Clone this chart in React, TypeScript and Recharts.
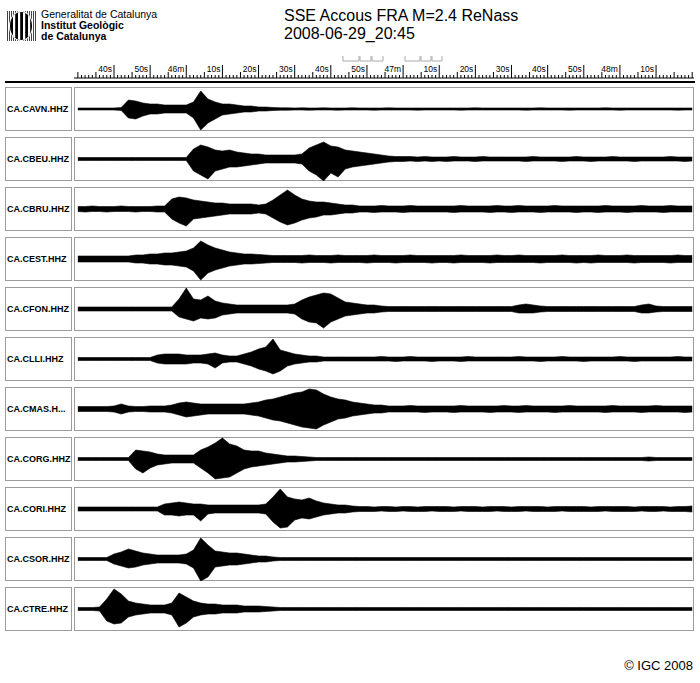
import React from 'react';
import { AreaChart, Area, ComposedChart, Line, XAxis, YAxis } from 'recharts';

// time bins, seconds after 20:45:00
const binTimes = [
  30, 32, 34, 36, 38, 40, 42, 44, 46, 48,
  50, 52, 54, 56, 58, 60, 62, 64, 66, 68,
  70, 72, 74, 76, 78, 80, 82, 84, 86, 88,
  90, 92, 94, 96, 98, 100, 102, 104, 106, 108,
  110, 112, 114, 116, 118, 120, 122, 124, 126, 128,
  130, 132, 134, 136, 138, 140, 142, 144, 146, 148,
  150, 152, 154, 156, 158, 160, 162, 164, 166, 168,
  170, 172, 174, 176, 178, 180, 182, 184, 186, 188,
  190, 192, 194, 196, 198, 200,
];

const majorTicks = [40, 50, 60, 70, 80, 90, 100, 110, 120, 130, 140, 150, 160, 170, 180, 190];
const majorLabels = ['40s', '50s', '46m', '10s', '20s', '30s', '40s', '50s', '47m', '10s', '20s', '30s', '40s', '50s', '48m', '10s'];

const stationNames = [
  'CA.CAVN.HHZ', 'CA.CBEU.HHZ', 'CA.CBRU.HHZ', 'CA.CEST.HHZ', 'CA.CFON.HHZ', 'CA.CLLI.HHZ',
  'CA.CMAS.H...', 'CA.CORG.HHZ', 'CA.CORI.HHZ', 'CA.CSOR.HHZ', 'CA.CTRE.HHZ',
];

// upper / lower envelope of each trace per bin
const cavnUp = [
  1, 1, 1, 1, 1, 1, 1.5, 9, 8, 6,
  5, 5, 4, 4, 4, 4, 7, 18, 10, 7,
  5, 5, 4, 3, 3, 2, 2, 1.5, 1.2, 1.2,
  1, 1.2, 1, 1, 1.2, 1, 1, 1, 1.2, 1,
  1, 1, 1, 1.2, 1, 1, 1, 1, 1, 1,
  1, 1, 1, 1, 1, 1.2, 1, 1, 1, 1,
  1, 1, 1, 1, 1.2, 1, 1, 1, 1, 1,
  1, 1, 1, 1.2, 1, 1, 1, 1, 1, 1,
  1, 1, 1, 1, 1, 1,
];
const cavnDown = [
  1, 1, 1, 1, 1, 1, 1.5, 9, 10, 7,
  5, 5, 4, 4, 4, 4, 9, 21, 14, 10,
  6, 5, 4, 3, 3, 2, 2, 1.5, 1.2, 1.2,
  1, 1, 1.2, 1, 1, 1, 1.2, 1, 1, 1,
  1, 1.2, 1, 1, 1, 1, 1, 1.2, 1, 1,
  1, 1, 1, 1.2, 1, 1, 1, 1, 1, 1,
  1, 1, 1.2, 1, 1, 1, 1, 1, 1.2, 1,
  1, 1, 1, 1, 1, 1.2, 1, 1, 1, 1,
  1, 1, 1, 1.2, 1, 1,
];

const cbeuUp = [
  1.5, 1.5, 1.5, 1.5, 1.5, 1.5, 1.5, 1.5, 1.5, 1.5,
  1.5, 1.5, 1.5, 1.5, 1.5, 1.5, 10, 14, 12, 9,
  8, 9, 7, 6, 5, 5, 4, 4, 4, 4,
  4, 5, 11, 14, 17, 13, 12, 9, 8, 7,
  6, 5, 4, 3, 2.5, 2.5, 2.5, 2, 2.5, 2,
  2, 2, 2.5, 2, 2, 2, 2.5, 2, 2, 2,
  2, 2, 2, 2.5, 2, 2, 2, 2, 2, 2.5,
  2, 2, 2, 2, 2.5, 2, 2, 2, 2, 2,
  2, 2, 2.5, 2, 2, 2,
];
const cbeuDown = [
  1.5, 1.5, 1.5, 1.5, 1.5, 1.5, 1.5, 1.5, 1.5, 1.5,
  1.5, 1.5, 1.5, 1.5, 1.5, 1.5, 12, 16, 20, 12,
  10, 8, 8, 7, 6, 5, 4, 4, 4, 4,
  4, 5, 12, 16, 22, 14, 18, 10, 8, 7,
  6, 5, 4, 3, 2.5, 2.5, 2, 2.5, 2, 2.5,
  2, 2.5, 2, 2, 2, 2.5, 2, 2, 2, 2,
  2, 2, 2.5, 2, 2, 2, 2, 2.5, 2, 2,
  2, 2.5, 2, 2, 2, 2, 2, 2.5, 2, 2,
  2, 2, 2, 2, 2.5, 2,
];

const cbruUp = [
  2.5, 2.5, 3, 2.5, 2.5, 2.5, 3, 2.5, 2.5, 2.5,
  2.5, 3, 3, 10, 12, 11, 9, 8, 7, 6,
  6, 5, 5, 5, 5, 4, 5, 9, 14, 19,
  14, 10, 8, 7, 7, 6, 5, 4, 4, 3,
  3, 3, 3.5, 3, 3, 3, 3.5, 3, 3, 3,
  3, 3, 3, 3.5, 3, 3, 3, 3, 3.5, 3,
  3, 3.5, 3, 3, 3, 3, 3.5, 3, 3, 3,
  3, 3, 3, 3.5, 3, 3, 3, 3, 3.5, 3,
  3, 3, 3.5, 3, 3, 3,
];
const cbruDown = [
  2.5, 3, 2.5, 2.5, 3, 2.5, 2.5, 2.5, 3, 2.5,
  2.5, 3, 3, 10, 14, 17, 10, 9, 8, 7,
  6, 5, 5, 5, 5, 4, 5, 9, 13, 16,
  14, 11, 9, 8, 6, 6, 5, 4, 4, 3,
  3, 3.5, 3, 3, 3, 3.5, 3, 3, 3, 3,
  3, 3, 3.5, 3, 3, 3, 3, 3.5, 3, 3,
  3.5, 3, 3, 3, 3.5, 3, 3, 3, 3, 3.5,
  3, 3, 3.5, 3, 3, 3, 3.5, 3, 3, 3,
  3, 3.5, 3, 3, 3, 3,
];

const cestUp = [
  3, 3, 3, 3, 3, 3, 3, 3, 4, 4,
  5, 5, 6, 6, 7, 8, 11, 18, 14, 11,
  9, 7, 6, 5, 5, 4.5, 4, 3.5, 3.5, 3.5,
  3.5, 3.5, 4, 3.5, 3.5, 3.5, 4, 3.5, 3.5, 3.5,
  3.5, 4, 3.5, 3.5, 3.5, 3.5, 4, 3.5, 3.5, 3.5,
  3.5, 3.5, 3.5, 4, 3.5, 3.5, 3.5, 3.5, 4, 3.5,
  3.5, 4, 3.5, 3.5, 3.5, 3.5, 3.5, 4, 3.5, 3.5,
  3.5, 3.5, 4, 3.5, 3.5, 3.5, 4, 3.5, 3.5, 3.5,
  3.5, 3.5, 3.5, 4, 3.5, 3.5,
];
const cestDown = [
  3, 3, 3, 3, 3, 3, 3, 3, 4, 4,
  5, 5, 6, 6, 7, 8, 12, 21, 14, 11,
  9, 7, 6, 5, 5, 4.5, 4, 3.5, 3.5, 3.5,
  3.5, 4, 3.5, 3.5, 3.5, 4, 3.5, 3.5, 3.5, 3.5,
  4, 3.5, 3.5, 3.5, 4, 3.5, 3.5, 3.5, 3.5, 4,
  3.5, 3.5, 4, 3.5, 3.5, 3.5, 3.5, 4, 3.5, 3.5,
  3.5, 3.5, 3.5, 3.5, 4, 3.5, 3.5, 3.5, 3.5, 4,
  3.5, 4, 3.5, 3.5, 3.5, 3.5, 3.5, 4, 3.5, 3.5,
  3.5, 3.5, 4, 3.5, 3.5, 3.5,
];

const cfonUp = [
  2, 2, 2, 2, 2, 2, 2, 2, 2, 2,
  2, 2, 2, 2, 10, 21, 10, 9, 13, 8,
  6, 5, 4, 4, 4, 4, 4, 4, 4, 4,
  5, 9, 12, 14, 16, 15, 11, 7, 6, 5,
  4, 4, 3, 2.5, 2.5, 2.5, 2.5, 2.5, 2.5, 2.5,
  2.5, 2.5, 2.5, 2.5, 2.5, 2.5, 2.5, 2.5, 2.5, 2.5,
  2.5, 4, 5, 4, 3, 2.5, 2.5, 2.5, 2.5, 2.5,
  2.5, 2.5, 2.5, 2.5, 2.5, 2.5, 2.5, 2.5, 4, 5,
  3, 2.5, 2.5, 2.5, 2.5, 2.5,
];
const cfonDown = [
  2, 2, 2, 2, 2, 2, 2, 2, 2, 2,
  2, 2, 2, 2, 8, 10, 12, 9, 10, 9,
  6, 5, 4, 4, 4, 4, 4, 4, 4, 4,
  5, 10, 13, 14, 19, 13, 10, 7, 6, 5,
  4, 4, 3, 2.5, 2.5, 2.5, 2.5, 2.5, 2.5, 2.5,
  2.5, 2.5, 2.5, 2.5, 2.5, 2.5, 2.5, 2.5, 2.5, 2.5,
  2.5, 4, 4, 4, 3, 2.5, 2.5, 2.5, 2.5, 2.5,
  2.5, 2.5, 2.5, 2.5, 2.5, 2.5, 2.5, 2.5, 4, 4,
  3, 2.5, 2.5, 2.5, 2.5, 2.5,
];

const clliUp = [
  1.5, 1.5, 1.5, 1.5, 1.5, 1.5, 1.5, 1.5, 1.5, 1.5,
  1.5, 4, 5, 5, 5, 4, 4, 4, 5, 6,
  4, 3, 3, 5, 7, 10, 12, 20, 9, 7,
  5, 4, 3, 3, 2, 2, 2, 2, 2, 2,
  2, 2, 2.5, 2, 2, 2, 2.5, 2, 2, 2,
  2, 2, 2, 2, 2.5, 2, 2, 2, 2, 2,
  2, 2.5, 2, 2, 2, 2, 2, 2.5, 2, 2,
  2, 2, 2, 2, 2, 2.5, 2, 2, 2, 2,
  2, 2, 2, 2.5, 2, 2,
];
const clliDown = [
  1.5, 1.5, 1.5, 1.5, 1.5, 1.5, 1.5, 1.5, 1.5, 1.5,
  1.5, 4, 5, 5, 5, 5, 4, 4, 5, 9,
  4, 3, 3, 5, 7, 10, 12, 15, 12, 7,
  5, 4, 3, 3, 2, 2, 2, 2, 2, 2,
  2, 2, 2, 2, 2.5, 2, 2, 2, 2, 2.5,
  2, 2, 2, 2.5, 2, 2, 2, 2, 2, 2,
  2, 2, 2, 2, 2.5, 2, 2, 2, 2, 2,
  2.5, 2, 2, 2, 2, 2, 2, 2.5, 2, 2,
  2, 2, 2, 2, 2, 2,
];

const cmasUp = [
  2.5, 2.5, 2.5, 2.5, 2.5, 3, 5, 3, 2.5, 2.5,
  3, 3, 3, 4, 6, 7, 6, 5, 5, 5,
  5, 5, 5, 5, 6, 7, 9, 10, 12, 14,
  16, 17, 20, 19, 15, 12, 10, 9, 7, 6,
  5, 4, 4, 3, 3, 3, 3.5, 3, 3, 3,
  3, 3, 3, 3.5, 3, 3, 3, 3, 3, 3.5,
  3, 3, 3.5, 3, 3, 3, 3, 3, 3.5, 3,
  3, 3, 3, 3, 3.5, 3, 3, 3, 3, 3,
  3.5, 3, 3, 3, 3, 3,
];
const cmasDown = [
  2.5, 2.5, 2.5, 2.5, 2.5, 3, 5, 3, 2.5, 2.5,
  3, 3, 3, 4, 6, 8, 7, 6, 5, 5,
  5, 5, 5, 5, 6, 7, 9, 11, 12, 14,
  16, 18, 19, 20, 16, 13, 10, 9, 7, 6,
  5, 4, 4, 3, 3, 3, 3, 3, 3.5, 3,
  3, 3, 3.5, 3, 3, 3, 3, 3.5, 3, 3,
  3, 3.5, 3, 3, 3, 3, 3.5, 3, 3, 3,
  3, 3, 3, 3.5, 3, 3, 3, 3, 3.5, 3,
  3, 3, 3, 3, 3.5, 3,
];

const corgUp = [
  1.5, 1.5, 1.5, 1.5, 1.5, 1.5, 1.5, 1.5, 9, 8,
  7, 5, 4, 4, 4, 4, 4, 9, 12, 16,
  21, 15, 13, 9, 8, 8, 6, 5, 4, 3,
  3, 2.5, 2, 1.5, 1.5, 1.5, 1.5, 1.5, 1.5, 1.5,
  1.5, 1.5, 1.5, 1.5, 1.5, 1.5, 1.5, 1.5, 1.5, 1.5,
  1.5, 1.5, 1.5, 1.5, 1.5, 1.5, 1.5, 1.5, 1.5, 1.5,
  1.5, 1.5, 1.5, 1.5, 1.5, 1.5, 1.5, 1.5, 1.5, 1.5,
  1.5, 1.5, 1.5, 1.5, 1.5, 1.5, 1.5, 1.5, 1.5, 2,
  1.5, 1.5, 1.5, 1.5, 1.5, 1.5,
];
const corgDown = [
  1.5, 1.5, 1.5, 1.5, 1.5, 1.5, 1.5, 1.5, 10, 14,
  9, 6, 5, 4, 4, 4, 4, 9, 14, 20,
  19, 18, 14, 10, 8, 7, 6, 5, 4, 3,
  3, 2.5, 2, 1.5, 1.5, 1.5, 1.5, 1.5, 1.5, 1.5,
  1.5, 1.5, 1.5, 1.5, 1.5, 1.5, 1.5, 1.5, 1.5, 1.5,
  1.5, 1.5, 1.5, 1.5, 1.5, 1.5, 1.5, 1.5, 1.5, 1.5,
  1.5, 1.5, 1.5, 1.5, 1.5, 1.5, 1.5, 1.5, 1.5, 1.5,
  1.5, 1.5, 1.5, 1.5, 1.5, 1.5, 1.5, 1.5, 1.5, 2,
  1.5, 1.5, 1.5, 1.5, 1.5, 1.5,
];

const coriUp = [
  2, 2, 2, 2, 2, 2, 2, 2, 2, 2,
  2, 2, 5, 6, 7, 6, 5, 5, 4, 4,
  4, 4, 4, 4, 4, 4, 5, 12, 20, 12,
  10, 9, 11, 8, 6, 5, 4, 4, 3, 2.5,
  2.5, 2, 2.5, 2.5, 2, 2.5, 2.5, 2, 2.5, 2.5,
  2.5, 2.5, 2, 2.5, 2.5, 2.5, 2, 2.5, 2.5, 2.5,
  2, 2.5, 2.5, 2.5, 2.5, 2, 2.5, 2.5, 2.5, 2.5,
  2.5, 2, 2.5, 2.5, 2.5, 2.5, 2.5, 2, 2.5, 2.5,
  2.5, 2.5, 2, 2.5, 2.5, 3,
];
const coriDown = [
  2, 2, 2, 2, 2, 2, 2, 2, 2, 2,
  2, 2, 6, 6, 7, 6, 6, 12, 5, 4,
  4, 4, 4, 4, 4, 4, 5, 13, 19, 18,
  11, 9, 10, 8, 6, 5, 4, 4, 3, 2.5,
  2.5, 2.5, 2, 2.5, 2.5, 2, 2.5, 2.5, 2.5, 2,
  2.5, 2.5, 2.5, 2, 2.5, 2.5, 2.5, 2.5, 2, 2.5,
  2.5, 2.5, 2, 2.5, 2.5, 2.5, 2.5, 2, 2.5, 2.5,
  2.5, 2.5, 2.5, 2, 2.5, 2.5, 2.5, 2.5, 2, 2.5,
  2.5, 2, 2.5, 2.5, 2.5, 3,
];

const csorUp = [
  1.5, 1.5, 1.5, 1.5, 1.5, 5, 7, 10, 8, 6,
  5, 4, 4, 4, 4, 5, 9, 21, 14, 8,
  7, 6, 6, 5, 4, 3, 3, 2, 1.5, 1.5,
  1.5, 1.5, 1.5, 1.5, 1.5, 1.5, 1.5, 1.5, 1.5, 1.5,
  1.5, 1.5, 1.5, 1.5, 1.5, 1.5, 1.5, 1.5, 1.5, 1.5,
  1.5, 1.5, 1.5, 1.5, 1.5, 1.5, 1.5, 1.5, 1.5, 1.5,
  1.5, 1.5, 1.5, 1.5, 1.5, 1.5, 1.5, 1.5, 1.5, 1.5,
  1.5, 1.5, 1.5, 1.5, 1.5, 1.5, 1.5, 1.5, 1.5, 1.5,
  1.5, 1.5, 1.5, 1.5, 1.5, 1.5,
];
const csorDown = [
  1.5, 1.5, 1.5, 1.5, 1.5, 5, 7, 9, 8, 6,
  5, 4, 4, 4, 4, 5, 9, 22, 18, 8,
  7, 6, 6, 5, 4, 3, 3, 2, 1.5, 1.5,
  1.5, 1.5, 1.5, 1.5, 1.5, 1.5, 1.5, 1.5, 1.5, 1.5,
  1.5, 1.5, 1.5, 1.5, 1.5, 1.5, 1.5, 1.5, 1.5, 1.5,
  1.5, 1.5, 1.5, 1.5, 1.5, 1.5, 1.5, 1.5, 1.5, 1.5,
  1.5, 1.5, 1.5, 1.5, 1.5, 1.5, 1.5, 1.5, 1.5, 1.5,
  1.5, 1.5, 1.5, 1.5, 1.5, 1.5, 1.5, 1.5, 1.5, 1.5,
  1.5, 1.5, 1.5, 1.5, 1.5, 1.5,
];

const ctreUp = [
  1.5, 1.5, 1.5, 2, 10, 20, 15, 8, 6, 5,
  4, 4, 4, 6, 16, 12, 8, 6, 5, 5,
  4, 4, 4, 3, 3, 3, 2.5, 2, 1.5, 1.5,
  1.5, 1.5, 1.5, 1.5, 1.5, 1.5, 1.5, 1.5, 1.5, 1.5,
  1.5, 1.5, 1.5, 1.5, 1.5, 1.5, 1.5, 1.5, 1.5, 1.5,
  1.5, 1.5, 1.5, 1.5, 1.5, 1.5, 1.5, 1.5, 1.5, 1.5,
  1.5, 1.5, 1.5, 1.5, 1.5, 1.5, 1.5, 1.5, 1.5, 1.5,
  1.5, 1.5, 1.5, 1.5, 1.5, 1.5, 1.5, 1.5, 1.5, 1.5,
  1.5, 1.5, 1.5, 1.5, 1.5, 1.5,
];
const ctreDown = [
  1.5, 1.5, 1.5, 2, 12, 15, 14, 8, 6, 5,
  4, 4, 4, 6, 18, 14, 8, 6, 5, 5,
  4, 4, 4, 3, 3, 3, 2.5, 2, 1.5, 1.5,
  1.5, 1.5, 1.5, 1.5, 1.5, 1.5, 1.5, 1.5, 1.5, 1.5,
  1.5, 1.5, 1.5, 1.5, 1.5, 1.5, 1.5, 1.5, 1.5, 1.5,
  1.5, 1.5, 1.5, 1.5, 1.5, 1.5, 1.5, 1.5, 1.5, 1.5,
  1.5, 1.5, 1.5, 1.5, 1.5, 1.5, 1.5, 1.5, 1.5, 1.5,
  1.5, 1.5, 1.5, 1.5, 1.5, 1.5, 1.5, 1.5, 1.5, 1.5,
  1.5, 1.5, 1.5, 1.5, 1.5, 1.5,
];

const traceUp = [cavnUp, cbeuUp, cbruUp, cestUp, cfonUp, clliUp, cmasUp, corgUp, coriUp, csorUp, ctreUp];
const traceDown = [cavnDown, cbeuDown, cbruDown, cestDown, cfonDown, clliDown, cmasDown, corgDown, coriDown, csorDown, ctreDown];

const T_MIN = 28.93;
const T_MAX = 200.5;
const FONT = '"Liberation Sans", Arial, Helvetica, sans-serif';
const BORDER = '1px solid #9c9c9c';

// one tick per second along the time ruler
const secondTicks: number[] = [];
for (let s = 30; s <= 200; s++) secondTicks.push(s);

function RulerTick(props: any) {
  const { x, y, payload } = props;
  const v = payload.value;
  const idx = majorTicks.indexOf(v);
  const h = idx >= 0 ? 13 : v % 5 === 0 ? 6 : 3;
  return (
    <g>
      <line x1={x} x2={x} y1={y} y2={y - h} stroke="#000" strokeWidth={1} />
      {idx >= 0 && (
        <text x={x - 2} y={y - 6} textAnchor="end" fontSize={8.5} fontFamily={FONT} fill="#000">
          {majorLabels[idx]}
        </text>
      )}
    </g>
  );
}

function TimeRuler() {
  const rows = binTimes.map(t => ({ t }));
  return (
    <ComposedChart width={620} height={34} data={rows} margin={{ top: 0, right: 0, bottom: 0, left: 0 }}>
      <XAxis
        type="number" dataKey="t" domain={[T_MIN, T_MAX]} allowDataOverflow
        orientation="top" height={28} ticks={secondTicks} interval={0}
        tickSize={0} tickMargin={0} tickLine={false}
        axisLine={{ stroke: '#000', strokeWidth: 1 }} tick={<RulerTick />}
      />
      <YAxis hide />
      <Line dataKey="t" stroke="none" dot={false} activeDot={false} isAnimationActive={false} />
    </ComposedChart>
  );
}

function Trace({ name, up, down, top }: { name: string; up: number[]; down: number[]; top: number }) {
  const rows = binTimes.map((t, i) => ({ t, band: [-down[i], up[i]] }));
  return (
    <>
      <div style={{
        position: 'absolute', left: 5, top, width: 67, height: 44, border: BORDER, boxSizing: 'border-box',
        display: 'flex', alignItems: 'center', paddingLeft: 1, whiteSpace: 'nowrap', overflow: 'hidden',
        fontFamily: FONT, fontWeight: 'bold', fontSize: 9, color: '#000',
      }}>{name}</div>
      <div style={{ position: 'absolute', left: 74, top, width: 620, height: 44, border: BORDER, boxSizing: 'border-box' }} />
      <div style={{ position: 'absolute', left: 74, top }}>
        <AreaChart width={620} height={44} data={rows} margin={{ top: 0, right: 0, bottom: 0, left: 0 }}>
          <XAxis type="number" dataKey="t" domain={[T_MIN, T_MAX]} allowDataOverflow hide />
          <YAxis domain={[-22, 22]} allowDataOverflow hide />
          <Area
            dataKey="band" type="linear" stroke="#000" strokeWidth={0.6} fill="#000" fillOpacity={1}
            dot={false} activeDot={false} isAnimationActive={false}
          />
        </AreaChart>
      </div>
    </>
  );
}

function Logo() {
  return (
    <svg width={32} height={34} style={{ position: 'absolute', left: 5, top: 9 }}>
      <defs>
        <clipPath id="oval"><ellipse cx={16} cy={17} rx={11} ry={14} /></clipPath>
        <pattern id="hatch" width={2} height={2} patternUnits="userSpaceOnUse">
          <rect width={1} height={2} fill="#444" />
        </pattern>
      </defs>
      <rect x={1} y={2} width={30} height={30} fill="url(#hatch)" />
      <ellipse cx={16} cy={17} rx={12} ry={15} fill="#fff" />
      <g clipPath="url(#oval)">
        <rect x={0} y={0} width={32} height={34} fill="#000" />
        {[8, 13, 18, 23].map(x => <rect key={x} x={x} y={0} width={2.2} height={34} fill="#fff" />)}
      </g>
    </svg>
  );
}

export default function App() {
  return (
    <div style={{ position: 'fixed', left: 0, top: 0, width: 700, height: 683, background: '#fff', fontFamily: FONT }}>
      <Logo />
      <div style={{ position: 'absolute', left: 41, top: 9, fontSize: 10.5, lineHeight: '11px', color: '#000' }}>
        <div>Generalitat de Catalunya</div>
        <div style={{ fontWeight: 'bold' }}>Institut Geològic</div>
        <div style={{ fontWeight: 'bold' }}>de Catalunya</div>
      </div>
      <div style={{ position: 'absolute', left: 284, top: 7, fontSize: 16, lineHeight: '18px', color: '#000' }}>
        <div>SSE Accous FRA M=2.4 ReNass</div>
        <div>2008-06-29_20:45</div>
      </div>

      <svg width={110} height={10} style={{ position: 'absolute', left: 340, top: 54 }}>
        {[[3, 19], [20, 31], [32, 43], [65, 80], [81, 91], [92, 102]].map(([a, b]) => (
          <path key={a} d={`M${a} 2 V7 H${b} V2`} fill="none" stroke="#aaa" strokeWidth={1} />
        ))}
      </svg>

      <div style={{ position: 'absolute', left: 74, top: 50 }}>
        <TimeRuler />
      </div>
      <div style={{ position: 'absolute', left: 5, top: 81, width: 690, height: 2, background: '#000' }} />

      {stationNames.map((name, i) => (
        <Trace key={name} name={name} up={traceUp[i]} down={traceDown[i]} top={87 + 50 * i} />
      ))}

      <div style={{ position: 'absolute', right: 7, top: 658, fontSize: 13, color: '#000' }}>© IGC 2008</div>
    </div>
  );
}
